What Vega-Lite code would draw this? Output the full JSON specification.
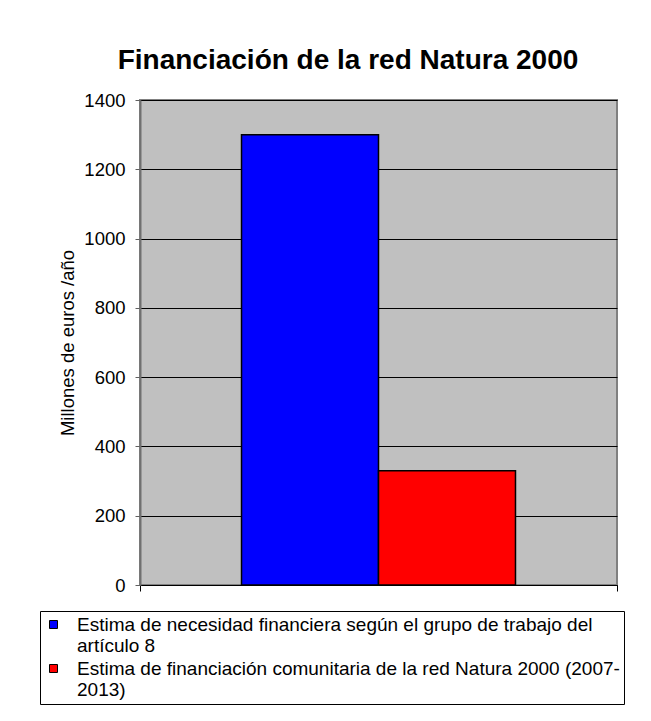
{
  "$schema": "https://vega.github.io/schema/vega-lite/v6.json",
  "width": 477,
  "height": 485,
  "autosize": {"type": "none"},
  "padding": {"left": 140, "top": 100, "right": 34, "bottom": 136},
  "background": "white",
  "title": {
    "text": "Financiación de la red Natura 2000",
    "font": "Liberation Sans",
    "fontSize": 28,
    "fontWeight": "bold",
    "color": "#000000",
    "anchor": "middle",
    "dx": -30.5,
    "dy": 38,
    "baseline": "alphabetic",
    "offset": 32
  },
  "data": {
    "values": [
      {"grupo": "Natura 2000", "serie": "Estima de necesidad financiera según el grupo de trabajo del artículo 8", "valor": 1300},
      {"grupo": "Natura 2000", "serie": "Estima de financiación comunitaria de la red Natura 2000 (2007-2013)", "valor": 330}
    ]
  },
  "mark": {"type": "bar", "stroke": "#000000", "strokeWidth": 1.5},
  "encoding": {
    "x": {
      "field": "grupo",
      "type": "nominal",
      "scale": {"paddingInner": 0, "paddingOuter": 0},
      "axis": {
        "labels": false,
        "title": null,
        "tickBand": "extent",
        "ticks": true,
        "tickSize": 6,
        "tickColor": "#000000",
        "domainColor": "#000000",
        "domainWidth": 1
      }
    },
    "xOffset": {
      "field": "serie",
      "type": "nominal",
      "sort": null,
      "scale": {"paddingInner": 0, "paddingOuter": 0.741}
    },
    "y": {
      "field": "valor",
      "type": "quantitative",
      "scale": {"domain": [0, 1400], "nice": false},
      "axis": {
        "values": [0, 200, 400, 600, 800, 1000, 1200, 1400],
        "format": "d",
        "title": "Millones de euros /año",
        "titleFont": "Liberation Sans",
        "titleFontSize": 18.5,
        "titleFontWeight": "normal",
        "titleColor": "#000000",
        "titlePadding": 6,
        "labelFont": "Liberation Sans",
        "labelFontSize": 18.5,
        "labelColor": "#000000",
        "labelPadding": 10,
        "tickSize": 5,
        "tickColor": "#606060",
        "domainColor": "#707070",
        "domainWidth": 2,
        "grid": true,
        "gridColor": "#000000",
        "gridWidth": 1,
        "gridOpacity": 1
      }
    },
    "color": {
      "field": "serie",
      "type": "nominal",
      "sort": null,
      "scale": {"range": ["#0000FF", "#FF0000"]},
      "legend": {
        "orient": "none",
        "legendX": -100,
        "legendY": 511,
        "title": null,
        "strokeColor": "#000000",
        "fillColor": "#FFFFFF",
        "padding": 4,
        "symbolType": "square",
        "symbolSize": 64,
        "symbolStrokeColor": "#000000",
        "symbolStrokeWidth": 1,
        "symbolOpacity": 1,
        "labelFont": "Liberation Sans",
        "labelFontSize": 19,
        "labelColor": "#000000",
        "labelLimit": 0,
        "labelOffset": 14,
        "labelLineHeight": 19,
        "rowPadding": 3,
        "labelExpr": "datum.label == 'Estima de necesidad financiera según el grupo de trabajo del artículo 8' ? ['Estima de necesidad financiera según el grupo de trabajo del', 'artículo 8'] : ['Estima de financiación comunitaria de la red Natura 2000 (2007-', '2013)']"
      }
    }
  },
  "config": {
    "view": {"fill": "#C0C0C0", "stroke": "#808080", "strokeWidth": 2}
  }
}
